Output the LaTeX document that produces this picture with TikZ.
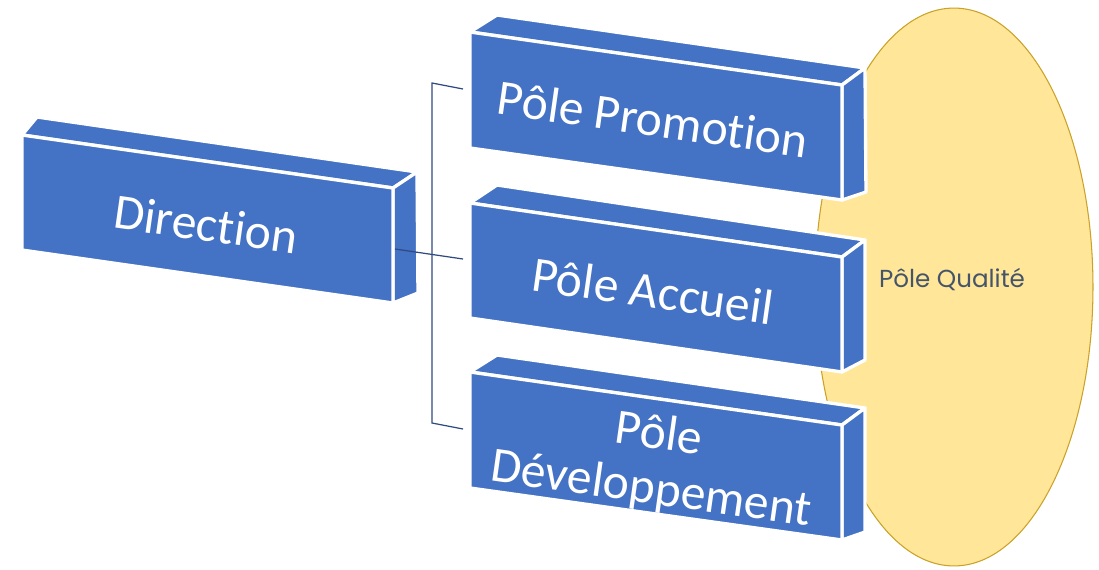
\documentclass[tikz,border=0pt]{standalone}
\usepackage{fontspec}
\usetikzlibrary{shapes.geometric}
\setmainfont[Ligatures=NoCommon]{Carlito}
\newfontfamily\qualfont{Poppins}
\definecolor{blockblue}{HTML}{4472C4}
\definecolor{qualfill}{HTML}{FFE699}
\definecolor{qualedge}{HTML}{C9A227}
\definecolor{linkblue}{HTML}{2F4A80}
\definecolor{qualtext}{HTML}{44546A}
\newcommand\cuboid[7]{%
  \filldraw[blockface] #1 -- #5 -- #6 -- #2 -- cycle;
  \filldraw[blockface] #2 -- #6 -- #7 -- #3 -- cycle;
  \filldraw[blockface] #1 -- #2 -- #3 -- #4 -- cycle;
}
\tikzset{
  blockface/.style={fill=blockblue, draw=white, line width=1.9pt, line join=round},
  blocktext/.style={text=white, font=\fontsize{28.3}{31.5}\selectfont, align=center, inner sep=0pt, rotate=-8.1},
  link/.style={draw=linkblue, line width=0.7pt},
}
\begin{document}
\begin{tikzpicture}[x=0.02cm, y=-0.02cm]
\useasboundingbox (0,0) rectangle (1099,569);
% Pole Qualite ellipse
\node[draw=qualedge, fill=qualfill, line width=0.6pt, ellipse, minimum width=5.56cm, minimum height=11.16cm, inner sep=0pt] (qual) at (954,287) {};
\node[text=qualtext, font=\qualfont\fontsize{14}{16}\selectfont] (qualtxt) at (952,279) {Pôle Qualité};
% blocks
\cuboid{(22,135)}{(393,188)}{(393,303)}{(22,250)}{(37,117)}{(417,172)}{(418,293)}
\cuboid{(470,32)}{(842,85)}{(842,200)}{(470,148)}{(497,15)}{(865,68)}{(866,192)}
\cuboid{(470,203)}{(842,257)}{(842,372)}{(470,318)}{(497,185)}{(865,240)}{(865,360)}
\cuboid{(470,372)}{(842,425)}{(842,540)}{(470,488)}{(497,355)}{(865,408)}{(865,532)}
% texts
\node[blocktext] (dir) at (206,224) {Direction};
\node[blocktext] (pro) at (653,119) {Pôle Promotion};
\node[blocktext] (acc) at (653,291) {Pôle Accueil};
\node[blocktext] (dev) at (655,463) {Pôle\\Développement};
% connectors
\coordinate (dirOut) at (395,249);
\coordinate (accIn) at (463,259);
\coordinate (busTop) at (432,83);
\coordinate (busBot) at (432,423);
\coordinate (proIn) at (463,89);
\coordinate (devIn) at (463,429);
\draw[link] (proIn) -- (busTop) -- (busBot) -- (devIn);
\draw[link] (dirOut) -- (accIn);
\end{tikzpicture}
\end{document}
